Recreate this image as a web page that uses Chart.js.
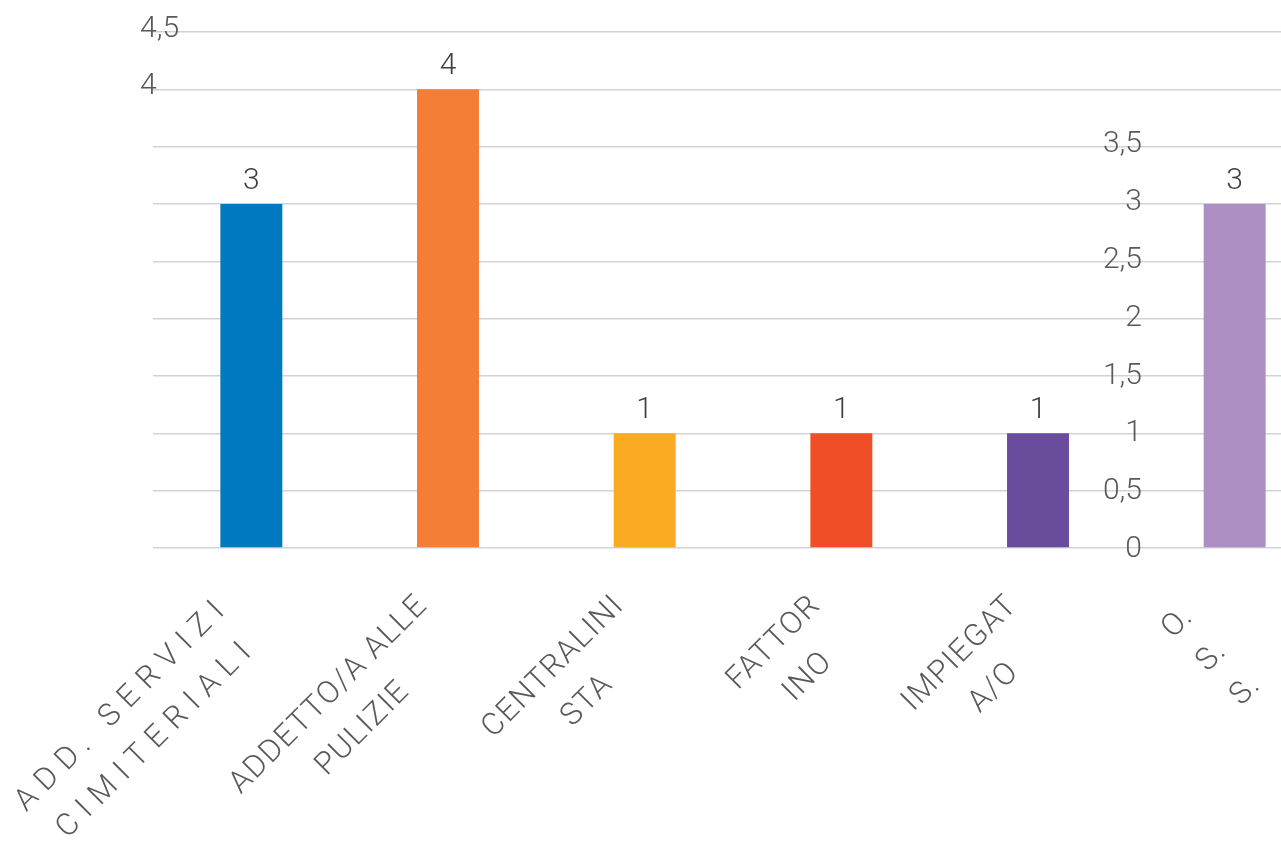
<!DOCTYPE html>
<html>
<head>
<meta charset="utf-8">
<script src="https://cdn.jsdelivr.net/npm/chart.js@4/dist/chart.umd.min.js"></script>
<style>
  html, body { margin: 0; padding: 0; background: #fff; overflow: hidden; }
  #wrap { width: 1340px; height: 841px; }
</style>
</head>
<body>
<div id="wrap"><canvas id="chart" width="1340" height="841"></canvas></div>
<script>
// categories (already wrapped the way the original shows them)
var categories = [
  ["ADD. SERVIZI", "CIMITERIALI"],
  ["ADDETTO/A ALLE", "PULIZIE"],
  ["CENTRALINI", "STA"],
  ["FATTOR", "INO"],
  ["IMPIEGAT", "A/O"],
  ["O.", "S.", "S."]
];
var values = [3, 4, 1, 1, 1, 3];
var barColors = ["#0079c1", "#f47e36", "#fbab22", "#f04e26", "#6a4c9c", "#ad8fc3"];
var yMax = 4.5;
var yStep = 0.5;

var FONT = "Roboto, 'Open Sans', sans-serif";
var textColor = "#595959";
// first label is spread out wider in the original
var labelTracking = { 0: "9px" };

var labelPlugin = {
  id: "labelPlugin",
  afterDraw: function (chart) {
    var ctx = chart.ctx;
    var x = chart.scales.x;
    var y = chart.scales.y;
    ctx.save();

    // y tick labels (top two at the left, the rest near the last bar)
    ctx.font = "300 30px " + FONT;
    ctx.fillStyle = textColor;
    ctx.textBaseline = "middle";
    y.ticks.forEach(function (t) {
      var txt = String(t.value).replace(".", ",");
      var py = y.getPixelForValue(t.value) - t.value + 1.5;
      if (t.value >= 4) {
        ctx.textAlign = "left";
        ctx.fillText(txt, chart.chartArea.left - 13, py);
      } else {
        ctx.textAlign = "right";
        ctx.fillText(txt, 1142, py);
      }
    });

    // values above bars
    ctx.fillStyle = "#404040";
    ctx.textAlign = "center";
    ctx.textBaseline = "alphabetic";
    var meta = chart.getDatasetMeta(0);
    meta.data.forEach(function (bar, i) {
      ctx.fillText(String(values[i]), bar.x, bar.y - 15);
    });

    // category labels, rotated 45 degrees, lines centred
    ctx.font = "300 31px " + FONT;
    ctx.fillStyle = textColor;
    ctx.textAlign = "center";
    ctx.textBaseline = "middle";
    var LH = 48;
    categories.forEach(function (lines, i) {
      ctx.letterSpacing = labelTracking[i] || "1.5px";
      var tx = x.getPixelForValue(i);
      var ty = y.bottom;
      var L = 0;
      lines.forEach(function (s) { L = Math.max(L, ctx.measureText(s).width); });
      var n = lines.length;
      var cu = -(L / 2 + 55) - 23 * (n - 2);
      var cv = 44 + 17 * (n - 2);
      ctx.save();
      ctx.translate(tx, ty);
      ctx.rotate(-Math.PI / 4);
      lines.forEach(function (s, k) {
        ctx.fillText(s, cu, cv + (k - (n - 1) / 2) * LH);
      });
      ctx.restore();
    });

    ctx.restore();
  }
};

var ctx = document.getElementById("chart").getContext("2d");
var myChart = new Chart(ctx, {
  type: "bar",
  data: {
    labels: categories,
    datasets: [{
      data: values,
      backgroundColor: barColors,
      borderWidth: 0,
      categoryPercentage: 1,
      barPercentage: 0.315
    }]
  },
  options: {
    responsive: false,
    animation: false,
    layout: { padding: { left: 153, top: 32, right: 7, bottom: 293 } },
    plugins: {
      legend: { display: false },
      tooltip: { enabled: false }
    },
    scales: {
      x: { display: false },
      y: {
        min: 0,
        max: yMax,
        ticks: { display: false, stepSize: yStep },
        border: { display: false },
        grid: { color: "#d0d3d6", lineWidth: 1.5, drawTicks: false }
      }
    }
  },
  plugins: [labelPlugin]
});
</script>
</body>
</html>
